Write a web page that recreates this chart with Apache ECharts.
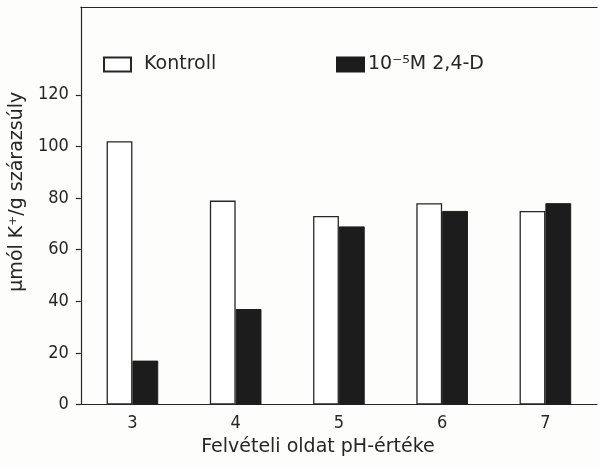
<!DOCTYPE html>
<html>
<head>
<meta charset="utf-8">
<style>
  html, body { margin: 0; padding: 0; background: #fdfdfb; }
  #chart { width: 599px; height: 468px; }
</style>
<script src="https://cdn.jsdelivr.net/npm/echarts@6/dist/echarts.min.js"></script>
</head>
<body>
<div id="chart"></div>
<script>
// K+ uptake (µmol per g dry weight) by pH of the uptake solution
const categories = ['3', '4', '5', '6', '7'];
const controlValues = [102, 79, 73, 78, 75];
const treatedValues = [17, 37, 69, 75, 78];
const yTickValues = [0, 20, 40, 60, 80, 100, 120];

const controlName = 'Kontroll';
const treatedName = '10\u207B\u2075M 2,4-D';

const numFont = "'DejaVu Sans Condensed', 'DejaVu Sans', sans-serif";
const textFont = "'DejaVu Sans', sans-serif";
const ink = '#262626';

const chart = echarts.init(document.getElementById('chart'), null, { renderer: 'canvas' });

chart.setOption({
  backgroundColor: '#fdfdfb',
  animation: false,
  textStyle: { fontFamily: textFont, color: ink },
  grid: { left: 77, right: 2, top: 7, bottom: 63.5, containLabel: false },
  legend: [
    {
      data: [controlName],
      icon: 'rect',
      left: 103, top: 55, padding: 0,
      itemWidth: 27, itemHeight: 14,
      textStyle: { fontFamily: textFont, fontSize: 19, color: ink, padding: [0, 0, 0, 8] }
    },
    {
      data: [treatedName],
      icon: 'rect',
      left: 336, top: 55, padding: 0,
      itemWidth: 27, itemHeight: 14,
      textStyle: { fontFamily: textFont, fontSize: 19, color: ink, padding: [0, 0, 0, -1] }
    }
  ],
  xAxis: [
    {
      type: 'category',
      data: categories,
      position: 'bottom',
      boundaryGap: true,
      axisLine: { lineStyle: { color: ink, width: 1.2 } },
      axisTick: { show: false },
      axisLabel: { fontFamily: numFont, fontSize: 18, color: ink, margin: 10 },
      name: 'Felvételi oldat pH-értéke',
      nameLocation: 'middle',
      nameGap: 33,
      nameTextStyle: { fontFamily: textFont, fontSize: 19, color: ink, padding: [0, 42, 0, 0] }
    },
    {
      // upper frame line
      type: 'category',
      data: categories,
      position: 'top',
      axisLine: { lineStyle: { color: ink, width: 1.2 } },
      axisTick: { show: false },
      axisLabel: { show: false }
    }
  ],
  yAxis: {
    type: 'value',
    min: 0,
    max: 154,
    interval: 20,
    splitLine: { show: false },
    axisLine: { show: true, lineStyle: { color: ink, width: 1.2 } },
    axisTick: { show: true, inside: false, length: 5, customValues: yTickValues, lineStyle: { color: ink, width: 1.2 } },
    axisLabel: { fontFamily: numFont, fontSize: 18, color: ink, margin: 12, customValues: yTickValues },
    name: 'μmól K\u207A/g szárazsúly',
    nameLocation: 'middle',
    nameGap: 41,
    nameRotate: 90,
    nameTextStyle: { fontFamily: textFont, fontSize: 19, color: ink, padding: [0, 0, 0, 28] }
  },
  series: [
    {
      name: controlName,
      type: 'bar',
      data: controlValues,
      barGap: '0%',
      barCategoryGap: '50%',
      itemStyle: { color: '#ffffff', borderColor: ink, borderWidth: 1.3 }
    },
    {
      name: treatedName,
      type: 'bar',
      data: treatedValues,
      barGap: '0%',
      barCategoryGap: '50%',
      itemStyle: { color: '#1c1c1c', borderColor: '#1c1c1c', borderWidth: 1 }
    }
  ]
});
</script>
</body>
</html>
